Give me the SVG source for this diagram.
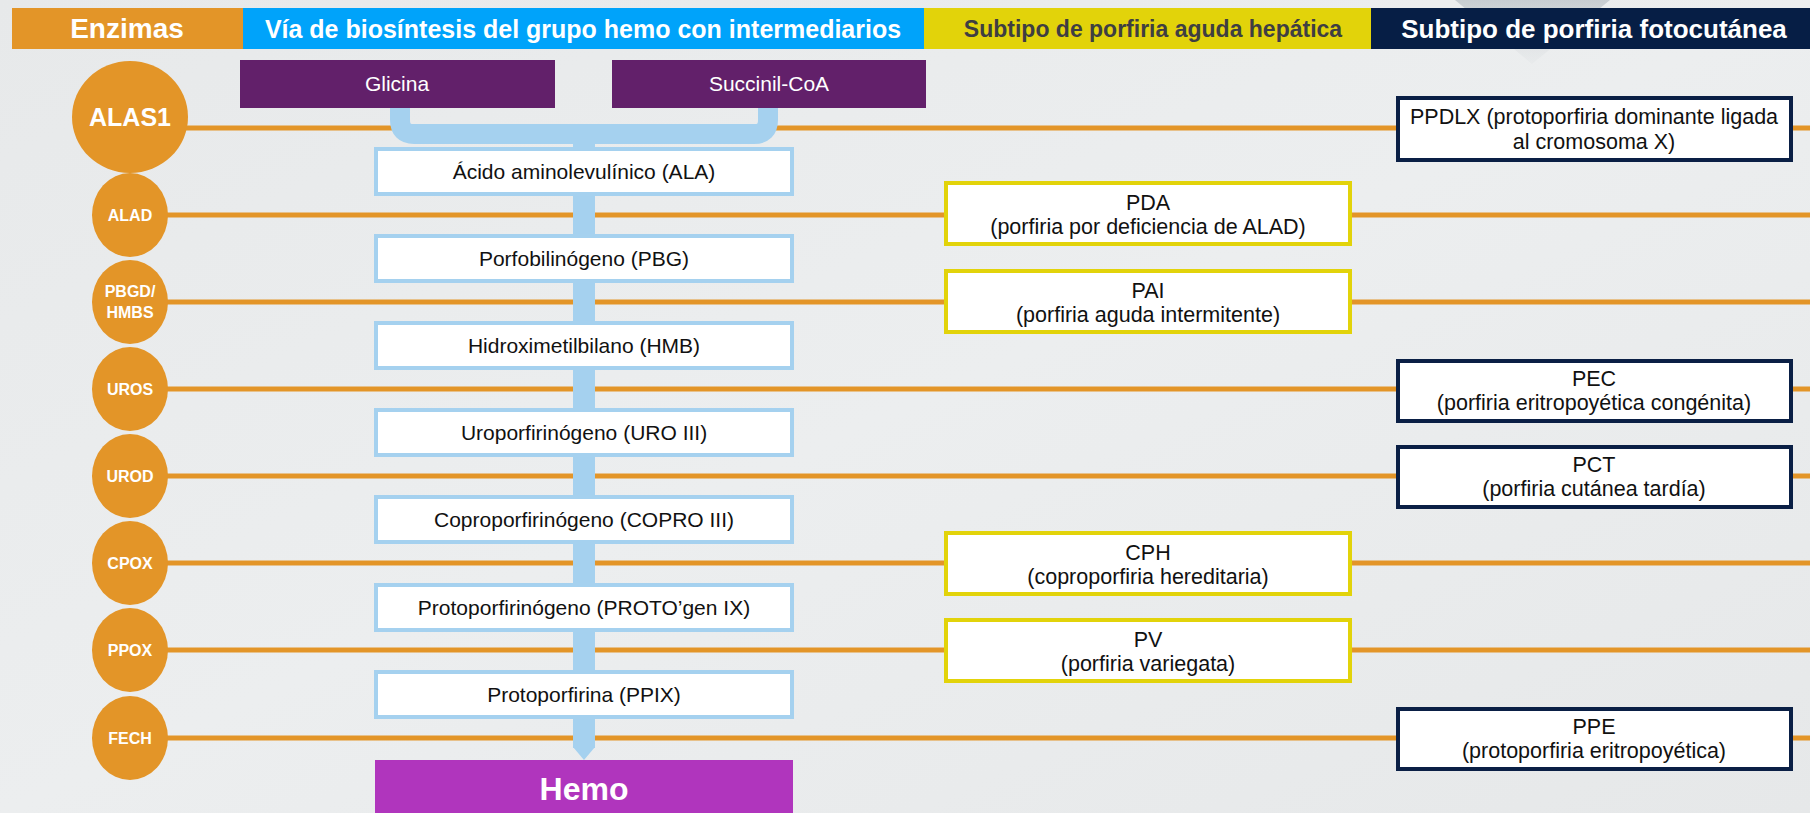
<svg xmlns="http://www.w3.org/2000/svg" width="1810" height="813" viewBox="0 0 1810 813">
  <defs>
    <linearGradient id="bg" x1="0" y1="0" x2="1" y2="1">
      <stop offset="0" stop-color="#E7E9EA"/>
      <stop offset="0.5" stop-color="#ECEEEF"/>
      <stop offset="1" stop-color="#E6E8E9"/>
    </linearGradient>
    <linearGradient id="deco" x1="0" y1="0" x2="0" y2="1">
      <stop offset="0" stop-color="#A9B2B9" stop-opacity="0.55"/>
      <stop offset="1" stop-color="#D4D8DB" stop-opacity="0.15"/>
    </linearGradient>
    <style>
      .hdr { font-family: "Liberation Sans", Arial, sans-serif; font-weight: bold; font-size: 26px; text-anchor: middle; }
      .enz { fill: #E39528; }
      .enzt { font-family: "Liberation Sans", Arial, sans-serif; font-weight: bold; fill: #FFFFFF; text-anchor: middle; font-size: 16px; }
      .eline { stroke: #E39528; stroke-width: 5; fill: none; }
      .src { fill: #62206A; }
      .srct { font-family: "Liberation Sans", Arial, sans-serif; font-size: 21px; fill: #FFFFFF; text-anchor: middle; }
      .inter { fill: #FFFFFF; stroke: #A5D1EF; stroke-width: 4; }
      .intert { font-family: "Liberation Sans", Arial, sans-serif; font-size: 21px; fill: #111111; text-anchor: middle; }
      .hep { fill: #FFFFFF; stroke: #E2D30A; stroke-width: 4; }
      .foto { fill: #FFFFFF; stroke: #0A1F45; stroke-width: 4; }
      .subt { font-family: "Liberation Sans", Arial, sans-serif; font-size: 21.5px; fill: #111111; text-anchor: middle; }
      .flow { fill: #A5D1EF; }
    </style>
  </defs>

  <rect x="0" y="0" width="1810" height="813" fill="url(#bg)"/>
  <polygon points="1455,0 1610,0 1532,64" fill="url(#deco)"/>

  <g id="header">
    <rect x="12" y="8" width="231" height="41" fill="#E39528"/>
    <text class="hdr" x="127" y="38" fill="#FFFFFF" style="font-size:28px">Enzimas</text>
    <rect x="243" y="8" width="681" height="41" fill="#00A3FA"/>
    <text class="hdr" x="583" y="38" fill="#FFFFFF" style="font-size:25px">Vía de biosíntesis del grupo hemo con intermediarios</text>
    <rect x="924" y="8" width="447" height="41" fill="#E2D30A"/>
    <text class="hdr" x="1153" y="37" fill="#3E3E42" style="font-size:23px">Subtipo de porfiria aguda hepática</text>
    <rect x="1371" y="8" width="439" height="41" fill="#061E45"/>
    <text class="hdr" x="1594" y="38" fill="#FFFFFF">Subtipo de porfiria fotocutánea</text>
  </g>

  <g id="connectors">
    <line class="eline" x1="180" y1="128" x2="1810" y2="128"/>
    <line class="eline" x1="165" y1="215" x2="1810" y2="215"/>
    <line class="eline" x1="165" y1="302" x2="1810" y2="302"/>
    <line class="eline" x1="165" y1="389" x2="1810" y2="389"/>
    <line class="eline" x1="165" y1="476" x2="1810" y2="476"/>
    <line class="eline" x1="165" y1="563" x2="1810" y2="563"/>
    <line class="eline" x1="165" y1="650" x2="1810" y2="650"/>
    <line class="eline" x1="165" y1="738" x2="1810" y2="738"/>
    <path d="M400,104 V120 Q400,134 414,134 H754 Q768,134 768,120 V104" fill="none" stroke="#A5D1EF" stroke-width="20"/>
    <rect class="flow" x="573" y="134" width="22" height="614"/>
    <polygon class="flow" points="573,747 595,747 584,760"/>
  </g>

  <g id="enz-ALAS1"><ellipse class="enz" cx="130" cy="117" rx="58" ry="56"/><text class="enzt" x="130" y="126" style="font-size:25px">ALAS1</text></g>
  <g id="enz-ALAD"><ellipse class="enz" cx="130" cy="215" rx="38" ry="42"/><text class="enzt" x="130" y="221">ALAD</text></g>
  <g id="enz-PBGD"><ellipse class="enz" cx="130" cy="302" rx="38" ry="42"/><text class="enzt" x="130" y="297">PBGD/</text><text class="enzt" x="130" y="318">HMBS</text></g>
  <g id="enz-UROS"><ellipse class="enz" cx="130" cy="389" rx="38" ry="42"/><text class="enzt" x="130" y="395">UROS</text></g>
  <g id="enz-UROD"><ellipse class="enz" cx="130" cy="476" rx="38" ry="42"/><text class="enzt" x="130" y="482">UROD</text></g>
  <g id="enz-CPOX"><ellipse class="enz" cx="130" cy="563" rx="38" ry="42"/><text class="enzt" x="130" y="569">CPOX</text></g>
  <g id="enz-PPOX"><ellipse class="enz" cx="130" cy="650" rx="38" ry="42"/><text class="enzt" x="130" y="656">PPOX</text></g>
  <g id="enz-FECH"><ellipse class="enz" cx="130" cy="738" rx="38" ry="42"/><text class="enzt" x="130" y="744">FECH</text></g>

  <g id="glicina"><rect class="src" x="240" y="60" width="315" height="48"/><text class="srct" x="397" y="91">Glicina</text></g>
  <g id="succinil"><rect class="src" x="612" y="60" width="314" height="48"/><text class="srct" x="769" y="91">Succinil-CoA</text></g>

  <g id="ala"><rect class="inter" x="376" y="149" width="416" height="45"/><text class="intert" x="584" y="179">Ácido aminolevulínico (ALA)</text></g>
  <g id="pbg"><rect class="inter" x="376" y="236" width="416" height="45"/><text class="intert" x="584" y="266">Porfobilinógeno (PBG)</text></g>
  <g id="hmb"><rect class="inter" x="376" y="323" width="416" height="45"/><text class="intert" x="584" y="353">Hidroximetilbilano (HMB)</text></g>
  <g id="uro"><rect class="inter" x="376" y="410" width="416" height="45"/><text class="intert" x="584" y="440">Uroporfirinógeno (URO III)</text></g>
  <g id="copro"><rect class="inter" x="376" y="497" width="416" height="45"/><text class="intert" x="584" y="527">Coproporfirinógeno (COPRO III)</text></g>
  <g id="protogen"><rect class="inter" x="376" y="585" width="416" height="45"/><text class="intert" x="584" y="615">Protoporfirinógeno (PROTO’gen IX)</text></g>
  <g id="ppix"><rect class="inter" x="376" y="672" width="416" height="45"/><text class="intert" x="584" y="702">Protoporfirina (PPIX)</text></g>
  <g id="hemo"><rect x="375" y="760" width="418" height="60" fill="#B035BD"/><text x="584" y="800" font-family="Liberation Sans, Arial, sans-serif" font-weight="bold" font-size="32" fill="#FFFFFF" text-anchor="middle">Hemo</text></g>

  <g id="pda"><rect class="hep" x="946" y="183" width="404" height="61"/><text class="subt" x="1148" y="210">PDA</text><text class="subt" x="1148" y="234">(porfiria por deficiencia de ALAD)</text></g>
  <g id="pai"><rect class="hep" x="946" y="271" width="404" height="61"/><text class="subt" x="1148" y="298">PAI</text><text class="subt" x="1148" y="322">(porfiria aguda intermitente)</text></g>
  <g id="cph"><rect class="hep" x="946" y="533" width="404" height="61"/><text class="subt" x="1148" y="560">CPH</text><text class="subt" x="1148" y="584">(coproporfiria hereditaria)</text></g>
  <g id="pv"><rect class="hep" x="946" y="620" width="404" height="61"/><text class="subt" x="1148" y="647">PV</text><text class="subt" x="1148" y="671">(porfiria variegata)</text></g>

  <g id="ppdlx"><rect class="foto" x="1398" y="98" width="393" height="62"/><text class="subt" x="1594" y="124">PPDLX (protoporfiria dominante ligada</text><text class="subt" x="1594" y="149">al cromosoma X)</text></g>
  <g id="pec"><rect class="foto" x="1398" y="361" width="393" height="60"/><text class="subt" x="1594" y="386">PEC</text><text class="subt" x="1594" y="410">(porfiria eritropoyética congénita)</text></g>
  <g id="pct"><rect class="foto" x="1398" y="447" width="393" height="60"/><text class="subt" x="1594" y="472">PCT</text><text class="subt" x="1594" y="496">(porfiria cutánea tardía)</text></g>
  <g id="ppe"><rect class="foto" x="1398" y="709" width="393" height="60"/><text class="subt" x="1594" y="734">PPE</text><text class="subt" x="1594" y="758">(protoporfiria eritropoyética)</text></g>
</svg>
